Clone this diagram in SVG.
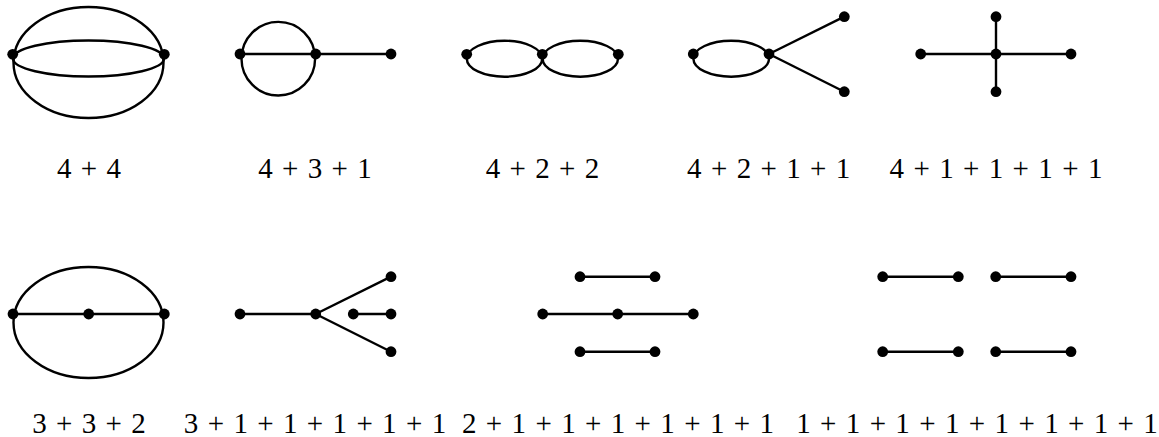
<svg xmlns="http://www.w3.org/2000/svg" width="1159" height="437" viewBox="0 0 1159 437">
<style>
.e{fill:none;stroke:#000;stroke-width:2.4}
.v{fill:#000}
.t{font-family:"Liberation Serif","DejaVu Serif",serif;font-size:29px;fill:#000;text-anchor:middle}
</style>
<rect width="1159" height="437" fill="#fff"/>
<g id="connectors">
  <!-- d1: 4+4 -->
  <ellipse class="e" cx="88.5" cy="62.5" rx="75" ry="55.5"/>
  <ellipse class="e" cx="88.5" cy="58.5" rx="75.5" ry="18"/>
  <!-- d2: 4+3+1 -->
  <circle class="e" cx="278.3" cy="58.7" r="36.8"/>
  <line class="e" x1="240" y1="54" x2="391" y2="54"/>
  <!-- d3: 4+2+2 -->
  <ellipse class="e" cx="504.5" cy="58.7" rx="37.7" ry="18"/>
  <ellipse class="e" cx="580.3" cy="58.7" rx="37.7" ry="18"/>
  <!-- d4: 4+2+1+1 -->
  <ellipse class="e" cx="731.2" cy="58.7" rx="37.8" ry="18"/>
  <line class="e" x1="769" y1="54" x2="844.3" y2="16.7"/>
  <line class="e" x1="769" y1="54" x2="844.3" y2="91.7"/>
  <!-- d5: 4+1+1+1+1 -->
  <line class="e" x1="920.7" y1="54" x2="1071" y2="54"/>
  <line class="e" x1="996" y1="16.7" x2="996" y2="91.7"/>
  <!-- d6: 3+3+2 -->
  <ellipse class="e" cx="88.5" cy="322.5" rx="75" ry="55.5"/>
  <line class="e" x1="13" y1="314" x2="164.3" y2="314"/>
  <!-- d7 -->
  <line class="e" x1="240" y1="314" x2="315.7" y2="314"/>
  <line class="e" x1="315.7" y1="314" x2="391" y2="276.7"/>
  <line class="e" x1="315.7" y1="314" x2="391" y2="351.7"/>
  <line class="e" x1="353.3" y1="314" x2="391" y2="314"/>
  <!-- d8 -->
  <line class="e" x1="580" y1="276.7" x2="655" y2="276.7"/>
  <line class="e" x1="542.7" y1="314" x2="693.3" y2="314"/>
  <line class="e" x1="580" y1="351.7" x2="655" y2="351.7"/>
  <!-- d9 -->
  <line class="e" x1="882.7" y1="276.7" x2="958.3" y2="276.7"/>
  <line class="e" x1="995.7" y1="276.7" x2="1071" y2="276.7"/>
  <line class="e" x1="882.7" y1="351.7" x2="958.3" y2="351.7"/>
  <line class="e" x1="995.7" y1="351.7" x2="1071" y2="351.7"/>
</g>
<g id="n1">
  <circle class="v" cx="12.7" cy="54.3" r="5.4"/>
  <circle class="v" cx="164.3" cy="54.3" r="5.4"/>
  <text class="t" x="89" y="178" textLength="64" lengthAdjust="spacing">4 + 4</text>
</g>
<g id="n2">
  <circle class="v" cx="240" cy="54" r="5.4"/>
  <circle class="v" cx="315.7" cy="54" r="5.4"/>
  <circle class="v" cx="391" cy="54" r="5.4"/>
  <text class="t" x="315" y="178" textLength="113.6" lengthAdjust="spacing">4 + 3 + 1</text>
</g>
<g id="n3">
  <circle class="v" cx="466.7" cy="54.3" r="5.4"/>
  <circle class="v" cx="542.3" cy="54.3" r="5.4"/>
  <circle class="v" cx="618.3" cy="54.3" r="5.4"/>
  <text class="t" x="542.5" y="178" textLength="113.6" lengthAdjust="spacing">4 + 2 + 2</text>
</g>
<g id="n4">
  <circle class="v" cx="693.3" cy="54" r="5.4"/>
  <circle class="v" cx="769" cy="54" r="5.4"/>
  <circle class="v" cx="844.3" cy="16.7" r="5.4"/>
  <circle class="v" cx="844.3" cy="91.7" r="5.4"/>
  <text class="t" x="768.7" y="178" textLength="163.2" lengthAdjust="spacing">4 + 2 + 1 + 1</text>
</g>
<g id="n5">
  <circle class="v" cx="920.7" cy="54" r="5.4"/>
  <circle class="v" cx="996" cy="54" r="5.4"/>
  <circle class="v" cx="1071" cy="54" r="5.4"/>
  <circle class="v" cx="996" cy="16.7" r="5.4"/>
  <circle class="v" cx="996" cy="91.7" r="5.4"/>
  <text class="t" x="996" y="178" textLength="212.8" lengthAdjust="spacing">4 + 1 + 1 + 1 + 1</text>
</g>
<g id="n6">
  <circle class="v" cx="13" cy="314" r="5.4"/>
  <circle class="v" cx="88.7" cy="314" r="5.4"/>
  <circle class="v" cx="164.3" cy="314" r="5.4"/>
  <text class="t" x="89" y="433" textLength="113.6" lengthAdjust="spacing">3 + 3 + 2</text>
</g>
<g id="n7">
  <circle class="v" cx="240" cy="314" r="5.4"/>
  <circle class="v" cx="315.7" cy="314" r="5.4"/>
  <circle class="v" cx="353.3" cy="314" r="5.4"/>
  <circle class="v" cx="391" cy="314" r="5.4"/>
  <circle class="v" cx="391" cy="276.7" r="5.4"/>
  <circle class="v" cx="391" cy="351.7" r="5.4"/>
  <text class="t" x="315" y="433" textLength="262.4" lengthAdjust="spacing">3 + 1 + 1 + 1 + 1 + 1</text>
</g>
<g id="n8">
  <circle class="v" cx="580" cy="276.7" r="5.4"/>
  <circle class="v" cx="655" cy="276.7" r="5.4"/>
  <circle class="v" cx="542.7" cy="314" r="5.4"/>
  <circle class="v" cx="617.7" cy="314" r="5.4"/>
  <circle class="v" cx="693.3" cy="314" r="5.4"/>
  <circle class="v" cx="580" cy="351.7" r="5.4"/>
  <circle class="v" cx="655" cy="351.7" r="5.4"/>
  <text class="t" x="618" y="433" textLength="312" lengthAdjust="spacing">2 + 1 + 1 + 1 + 1 + 1 + 1</text>
</g>
<g id="n9">
  <circle class="v" cx="882.7" cy="276.7" r="5.4"/>
  <circle class="v" cx="958.3" cy="276.7" r="5.4"/>
  <circle class="v" cx="995.7" cy="276.7" r="5.4"/>
  <circle class="v" cx="1071" cy="276.7" r="5.4"/>
  <circle class="v" cx="882.7" cy="351.7" r="5.4"/>
  <circle class="v" cx="958.3" cy="351.7" r="5.4"/>
  <circle class="v" cx="995.7" cy="351.7" r="5.4"/>
  <circle class="v" cx="1071" cy="351.7" r="5.4"/>
  <text class="t" x="977" y="433" textLength="361.6" lengthAdjust="spacing">1 + 1 + 1 + 1 + 1 + 1 + 1 + 1</text>
</g>
</svg>
